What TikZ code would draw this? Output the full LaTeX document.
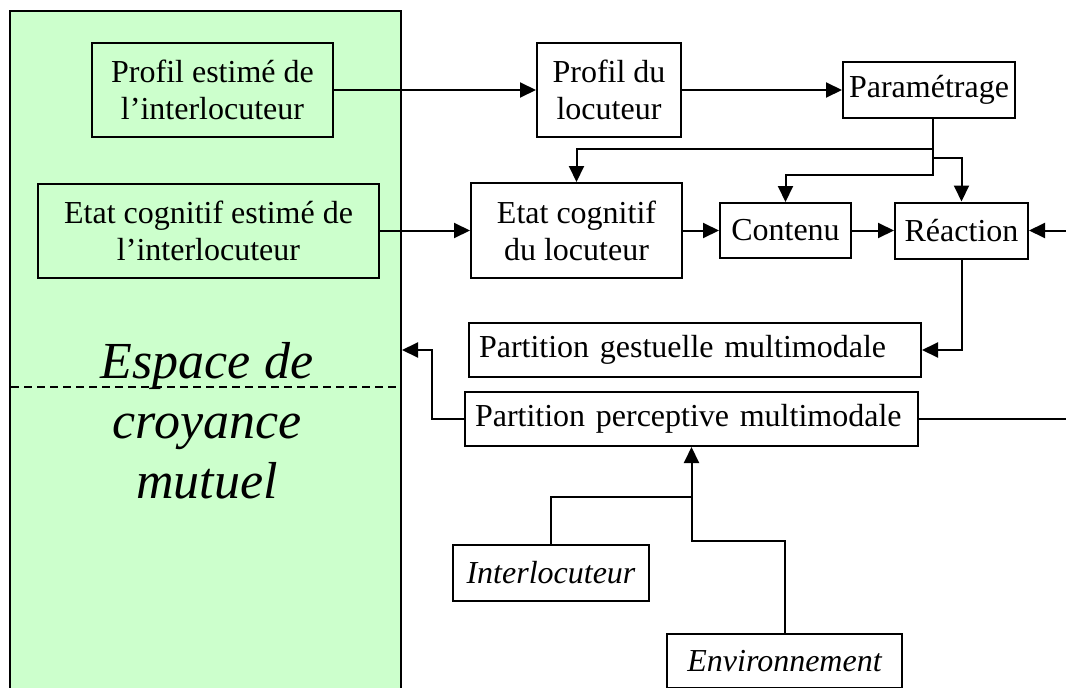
\documentclass[tikz,border=0pt]{standalone}
\usepackage{fontspec}
\setmainfont{Liberation Serif}
\usetikzlibrary{arrows.meta,positioning}
\definecolor{croyance}{HTML}{CCFFCC}

\begin{document}
\begin{tikzpicture}[x=1pt,y=-1pt,line width=2pt,>={Triangle[length=16pt,width=15pt]},
  box/.style={draw,align=center,minimum height=55pt,inner xsep=6pt,font=\fontsize{32}{37}\selectfont},
  vert/.style={box,fill=croyance},
  wide/.style={box,align=left,inner xsep=10pt},
  ext/.style={box,font=\fontsize{32}{37}\selectfont\itshape}]
  \useasboundingbox (0,0) rectangle (1066,688);
  \clip (0,0) rectangle (1066,688);
  % espace de croyance
  \node[draw,fill=croyance,minimum width=391pt,minimum height=700pt] (espace) at (205.5,361) {};
  \draw[dash pattern=on 8pt off 5pt,line width=1.4pt] (11,387) -- (398,387);
  \node[font=\fontsize{52}{60}\selectfont\itshape,align=center] (mutuel) at (207,421) {Espace de\\croyance\\mutuel};
  \node[vert,minimum width=241pt,minimum height=94pt] (pei) at (212.5,90) {Profil estimé de\\l’interlocuteur};
  \node[vert,minimum width=341pt,minimum height=94pt] (eci) at (208.5,230.5) {Etat cognitif estimé de\\l’interlocuteur};
  % locuteur
  \node[box,minimum width=144pt,minimum height=94pt] (pl) at (609,90) {Profil du\\locuteur};
  \node[box,minimum width=172pt,minimum height=56pt] (param) at (929,90) {Paramétrage};
  \node[box,minimum width=211pt,minimum height=95pt] (ecl) at (576.5,230.5) {Etat cognitif\\du locuteur};
  \node[box,minimum width=131pt] (contenu) at (785.5,230.5) {Contenu};
  \node[box,minimum width=133pt,minimum height=56pt] (reaction) at (961.5,230.5) {Réaction};
  \node[wide,text width=432pt,minimum height=54pt] (gest) at (695,350) {Partition gestuelle multimodale};
  \node[wide,text width=433pt,minimum height=54pt] (perc) at (691.5,419) {Partition perceptive multimodale};
  \node[ext,minimum width=196pt,minimum height=56pt] (interloc) at (551,573) {Interlocuteur};
  \node[ext,minimum width=235pt,minimum height=54pt] (env) at (784.5,661) {Environnement};
  \coordinate (rin) at (1066,230.5);
  \coordinate (pout) at (1066,419);
  % connexions
  \draw[->] (pei) -- (pl);
  \draw[->] (pl) -- (param);
  \draw[->] (eci) -- (ecl);
  \draw[->] (ecl) -- (contenu);
  \draw[->] (contenu) -- (reaction);
  \draw[->] (rin) -- (reaction);
  \draw[->] ([xshift=4pt]param.south) |- ([yshift=33pt]ecl.north) -- (ecl.north);
  \draw[->] ([xshift=4pt]param.south) |- ([yshift=27pt]contenu.north) -- (contenu.north);
  \draw[->] ([xshift=4pt]param.south) |- ([yshift=44pt]reaction.north) -- (reaction.north);
  \draw[->] (reaction.south) |- (gest.east);
  \draw[->] (perc.west) -- ++(-32,0) |- (espace.east |- gest.east);
  \draw (perc.east) -- (pout);
  \draw[->] (interloc.north) |- ([yshift=-50pt]perc.south) -- (perc.south);
  \draw (env.north) |- ([yshift=-94pt]perc.south) -- ([yshift=-50pt]perc.south);
\end{tikzpicture}
\end{document}
